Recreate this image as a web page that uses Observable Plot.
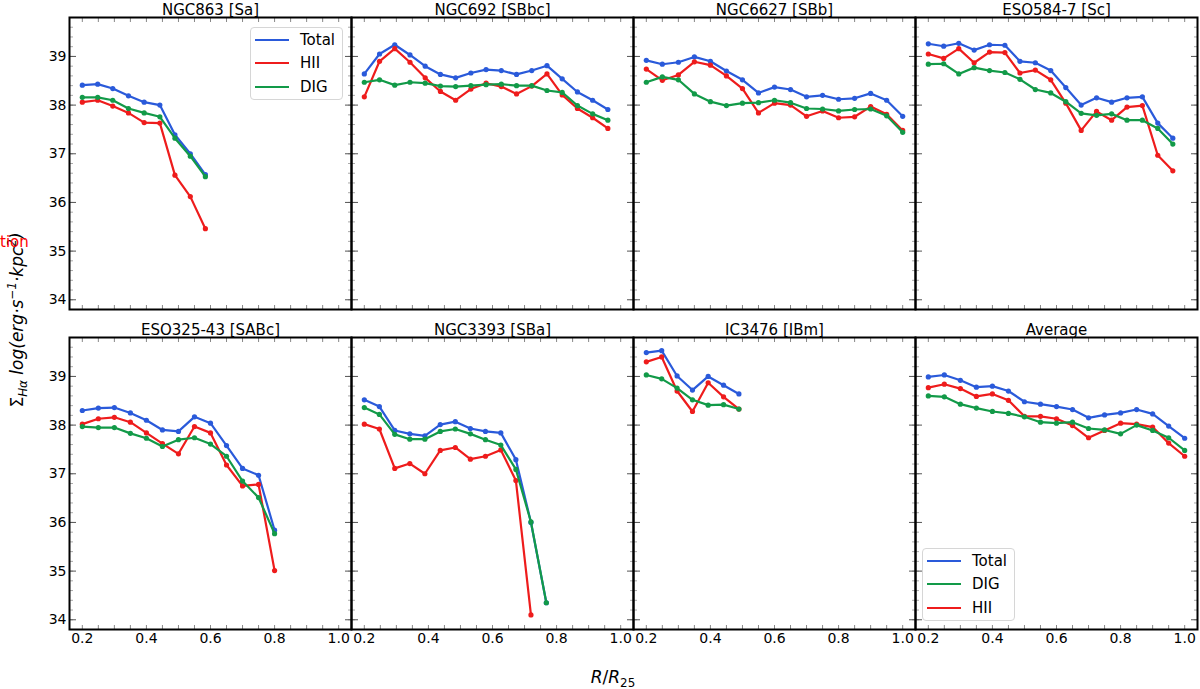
<!DOCTYPE html>
<html><head><meta charset="utf-8">
<script src="https://cdn.jsdelivr.net/npm/d3@7"></script>
<script src="https://cdn.jsdelivr.net/npm/@observablehq/plot@0.6"></script>
<style>
body{margin:0;background:#fff;font-family:"DejaVu Sans",sans-serif;}
#wrap{position:relative;width:1200px;height:689px;overflow:hidden;}
.abs{position:absolute;white-space:nowrap;color:#000;}
.legend{position:absolute;box-sizing:border-box;background:rgba(255,255,255,0.85);border:1px solid #d6d6d6;border-radius:4px;font-size:15px;padding-top:0px;}
.legend .row{display:flex;align-items:center;height:23.5px;}
.legend .sw{width:34px;height:0;border-top:2.2px solid;margin:0 11px 0 4px;}
sub,sup{font-size:70%;line-height:0;}
</style></head><body><div id="wrap"></div>
<script>
const galaxies = ["NGC863 [Sa]", "NGC692 [SBbc]", "NGC6627 [SBb]", "ESO584-7 [Sc]", "ESO325-43 [SABc]", "NGC3393 [SBa]", "IC3476 [IBm]", "Average"];
const panelCol = [0,1,2,3,0,1,2,3];
const panelRow = [0,0,0,0,1,1,1,1];
const components = ["Total","HII","DIG"];
const colors = ["#2a5ada","#ee1c1c","#129a48"];

const xTicks = [0.2, 0.4, 0.6, 0.8, 1.0];
const xMinorTicks = [0.2,0.25,0.3,0.35,0.4,0.45,0.5,0.55,0.6,0.65,0.7,0.75,0.8,0.85,0.9,0.95,1.0];
const yTicks = [34, 35, 36, 37, 38, 39];

const ngc863_x = [0.2, 0.248, 0.295, 0.344, 0.393, 0.442, 0.489, 0.537, 0.584];
const ngc863_total = [38.41, 38.43, 38.34, 38.19, 38.06, 38.00, 37.39, 37.00, 36.57];
const ngc863_hii = [38.06, 38.10, 37.98, 37.84, 37.64, 37.63, 36.56, 36.12, 35.46];
const ngc863_dig = [38.16, 38.16, 38.10, 37.93, 37.84, 37.76, 37.32, 36.95, 36.53];

const ngc692_x = [0.2, 0.2475, 0.295, 0.3425, 0.39, 0.4375, 0.485, 0.5325, 0.58, 0.6275, 0.675, 0.7225, 0.77, 0.8175, 0.865, 0.9125, 0.96];
const ngc692_total = [38.64, 39.05, 39.24, 39.03, 38.80, 38.63, 38.56, 38.66, 38.73, 38.71, 38.63, 38.71, 38.81, 38.54, 38.27, 38.10, 37.91];
const ngc692_hii = [38.17, 38.90, 39.16, 38.88, 38.56, 38.28, 38.10, 38.33, 38.45, 38.38, 38.23, 38.39, 38.64, 38.21, 37.93, 37.74, 37.52];
const ngc692_dig = [38.47, 38.52, 38.41, 38.47, 38.45, 38.39, 38.38, 38.40, 38.42, 38.43, 38.40, 38.40, 38.30, 38.26, 37.99, 37.82, 37.69];

const ngc6627_x = [0.2,0.25,0.3,0.35,0.4,0.45,0.5,0.55,0.6,0.65,0.7,0.75,0.8,0.85,0.9,0.95,1.0];
const ngc6627_total = [38.92, 38.84, 38.88, 38.99, 38.90, 38.70, 38.52, 38.25, 38.37, 38.32, 38.17, 38.20, 38.12, 38.14, 38.24, 38.10, 37.77];
const ngc6627_hii = [38.74, 38.51, 38.62, 38.89, 38.82, 38.60, 38.34, 37.84, 38.04, 38.00, 37.77, 37.88, 37.74, 37.76, 37.97, 37.81, 37.48];
const ngc6627_dig = [38.47, 38.58, 38.52, 38.23, 38.07, 37.99, 38.04, 38.05, 38.10, 38.05, 37.93, 37.92, 37.88, 37.91, 37.92, 37.78, 37.44];

const eso584_x = [0.2, 0.248, 0.295, 0.343, 0.391, 0.439, 0.486, 0.534, 0.582, 0.629, 0.677, 0.725, 0.772, 0.82, 0.868, 0.916, 0.963];
const eso584_total = [39.26, 39.21, 39.27, 39.13, 39.24, 39.23, 38.90, 38.87, 38.71, 38.36, 38.00, 38.15, 38.06, 38.15, 38.17, 37.63, 37.32];
const eso584_hii = [39.05, 38.96, 39.16, 38.87, 39.09, 39.08, 38.66, 38.72, 38.52, 38.04, 37.48, 37.87, 37.69, 37.96, 37.99, 36.97, 36.65];
const eso584_dig = [38.84, 38.85, 38.64, 38.77, 38.71, 38.67, 38.53, 38.32, 38.25, 38.07, 37.83, 37.79, 37.82, 37.69, 37.69, 37.52, 37.20];

const eso325_x = [0.2,0.25,0.3,0.35,0.4,0.45,0.5,0.55,0.6,0.65,0.7,0.75,0.8];
const eso325_total = [38.30, 38.35, 38.36, 38.25, 38.10, 37.90, 37.87, 38.17, 38.04, 37.58, 37.11, 36.97, 35.84];
const eso325_hii = [38.02, 38.13, 38.16, 38.06, 37.84, 37.62, 37.41, 37.97, 37.84, 37.18, 36.75, 36.78, 35.01];
const eso325_dig = [37.97, 37.95, 37.95, 37.83, 37.73, 37.56, 37.70, 37.74, 37.61, 37.36, 36.85, 36.51, 35.77];

const ngc3393_x = [0.2, 0.247, 0.295, 0.342, 0.389, 0.437, 0.484, 0.531, 0.578, 0.626, 0.673, 0.720, 0.768];
const ngc3393_total = [38.52, 38.38, 37.89, 37.82, 37.78, 38.01, 38.07, 37.93, 37.87, 37.84, 37.29, 36.00, 34.35];
const ngc3393_hii = [38.02, 37.92, 37.11, 37.21, 37.00, 37.48, 37.54, 37.30, 37.36, 37.49, 36.86, 34.10];
const ngc3393_dig = [38.36, 38.22, 37.81, 37.71, 37.71, 37.87, 37.92, 37.82, 37.70, 37.59, 37.09, 36.01, 34.35];

const ic3476_x = [0.2, 0.248, 0.296, 0.344, 0.393, 0.441, 0.489];
const ic3476_total = [39.49, 39.53, 39.01, 38.72, 39.00, 38.82, 38.64];
const ic3476_hii = [39.30, 39.40, 38.70, 38.28, 38.87, 38.58, 38.33];
const ic3476_dig = [39.03, 38.95, 38.76, 38.52, 38.41, 38.42, 38.33];

const avg_x = [0.2,0.25,0.3,0.35,0.4,0.45,0.5,0.55,0.6,0.65,0.7,0.75,0.8,0.85,0.9,0.95,1.0];
const avg_total = [38.99, 39.03, 38.92, 38.78, 38.80, 38.70, 38.48, 38.43, 38.38, 38.32, 38.15, 38.21, 38.25, 38.32, 38.23, 37.98, 37.73];
const avg_hii = [38.77, 38.84, 38.75, 38.59, 38.64, 38.51, 38.18, 38.18, 38.13, 37.99, 37.74, 37.89, 38.04, 38.02, 37.96, 37.63, 37.36];
const avg_dig = [38.60, 38.58, 38.43, 38.35, 38.28, 38.24, 38.17, 38.06, 38.04, 38.06, 37.93, 37.90, 37.82, 38.00, 37.89, 37.74, 37.48];

const series = [
  [ngc863_x, ngc863_total, ngc863_hii, ngc863_dig],
  [ngc692_x, ngc692_total, ngc692_hii, ngc692_dig],
  [ngc6627_x, ngc6627_total, ngc6627_hii, ngc6627_dig],
  [eso584_x, eso584_total, eso584_hii, eso584_dig],
  [eso325_x, eso325_total, eso325_hii, eso325_dig],
  [ngc3393_x, ngc3393_total, ngc3393_hii, ngc3393_dig],
  [ic3476_x, ic3476_total, ic3476_hii, ic3476_dig],
  [avg_x, avg_total, avg_hii, avg_dig]
];

const rows = [];
series.forEach((s, g) => {
  components.forEach((c, k) => {
    s[k + 1].forEach((v, i) => rows.push({g, comp: c, x: s[0][i], v, col: panelCol[g], row: panelRow[g]}));
  });
});
const titleData = galaxies.map((t, g) => ({t, col: panelCol[g], row: panelRow[g]}));
const yMinor = d3.range(338, 399, 2).map(d => d / 10);

const marks = [];
components.forEach((c, k) => {
  const d = rows.filter(r => r.comp === c);
  marks.push(Plot.line(d, {x: "x", y: "v", z: "g", fx: "col", fy: "row", stroke: colors[k], strokeWidth: 2.2}));
  marks.push(Plot.dot(d, {x: "x", y: "v", fx: "col", fy: "row", fill: colors[k], r: 2.6}));
});

const tickOpts = {tickFormat: () => "", label: null, facetAnchor: null};
const chart = Plot.plot({
  width: 1200, height: 689,
  marginTop: 17, marginBottom: 60, marginLeft: 68, marginRight: 3,
  style: {fontFamily: "DejaVu Sans", fontSize: "14px", background: "white"},
  x: {domain: [0.16, 1.04]},
  y: {domain: [33.8, 39.8]},
  fx: {domain: [0, 1, 2, 3], paddingInner: 0, paddingOuter: 0, axis: null},
  fy: {domain: [0, 1], paddingInner: 0.0875, paddingOuter: 0, axis: null},
  marks: [
    Plot.axisX({...tickOpts, anchor: "bottom", ticks: xMinorTicks, tickSize: -4, stroke: "#888"}),
    Plot.axisX({...tickOpts, anchor: "top", ticks: xMinorTicks, tickSize: -4, stroke: "#888"}),
    Plot.axisY({...tickOpts, anchor: "left", ticks: yMinor, tickSize: -4, stroke: "#aaa"}),
    Plot.axisY({...tickOpts, anchor: "right", ticks: yMinor, tickSize: -4, stroke: "#aaa"}),
    Plot.axisY({...tickOpts, anchor: "left", ticks: yTicks, tickSize: -7, stroke: "#555"}),
    Plot.axisY({...tickOpts, anchor: "right", ticks: yTicks, tickSize: -7, stroke: "#555"}),
    Plot.axisY({anchor: "left", ticks: yTicks, tickSize: 0, tickPadding: 3, tickFormat: d3.format("d"), label: null, fontSize: 14, fill: "black"}),
    Plot.axisX({anchor: "bottom", ticks: xTicks, tickSize: 0, tickPadding: 4, tickFormat: d3.format(".1f"), label: null, fontSize: 14, fill: "black"}),
    ...marks,
    Plot.frame({stroke: "black", strokeWidth: 2}),
    Plot.text(titleData, {fx: "col", fy: "row", text: "t", frameAnchor: "top", lineAnchor: "bottom", dy: -3, fontSize: 15, fill: "black"})
  ]
});
const wrap = document.getElementById("wrap");
wrap.appendChild(chart);

function addDiv(html, style, cls) {
  const d = document.createElement("div");
  d.className = cls || "abs";
  d.innerHTML = html;
  d.setAttribute("style", style);
  wrap.appendChild(d);
  return d;
}
addDiv('Σ<sub><i>Hα</i></sub> <i>log(erg·s<sup>−1</sup>·kpc<sup>2</sup>)</i>',
  "left:17px;top:320px;transform:translate(-50%,-50%) rotate(-90deg);font-size:17px;");
addDiv('tion', "left:0px;top:233px;font-size:15px;color:red;");
addDiv('<i>R</i>/<i>R</i><sub>25</sub>', "left:613px;top:677px;transform:translate(-50%,-50%);font-size:17px;");

function legend(left, top, order) {
  const html = order.map(k => `<div class="row"><div class="sw" style="border-color:${colors[k]}"></div><span>${components[k]}</span></div>`).join("");
  addDiv(html, `left:${left}px;top:${top}px;width:93px;height:73px;`, "legend");
}
legend(250, 27, [0, 1, 2]);
legend(922, 548, [0, 2, 1]);
</script></body></html>
